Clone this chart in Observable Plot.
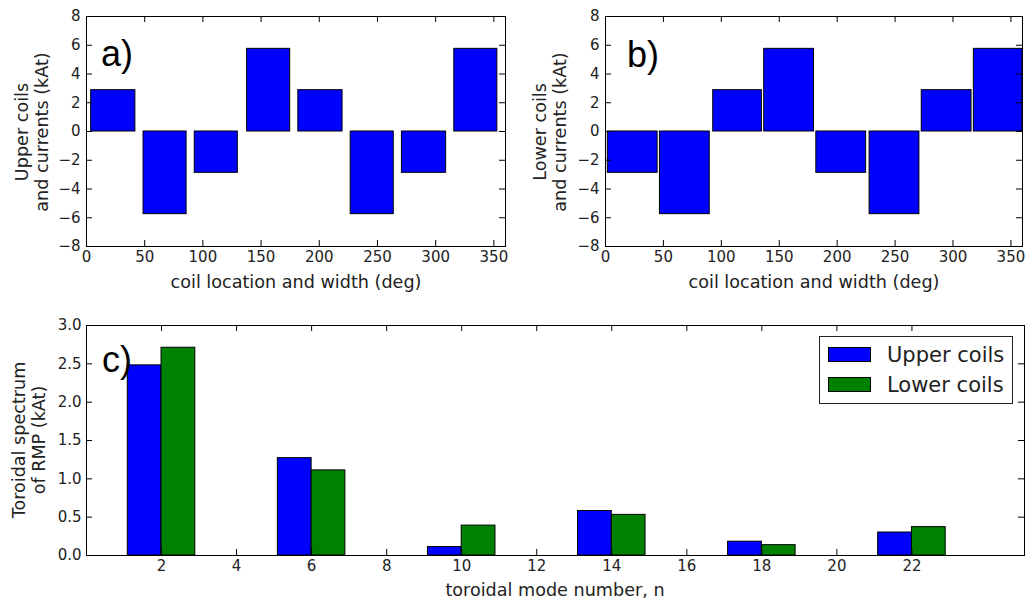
<!DOCTYPE html>
<html><head><meta charset="utf-8">
<script src="https://cdn.jsdelivr.net/npm/d3@7"></script>
<script src="https://cdn.jsdelivr.net/npm/@observablehq/plot@0.6"></script>
<style>
body{margin:0;background:#fff;font-family:"DejaVu Sans",sans-serif;color:#000}
#wrap{position:relative;width:1031px;height:604px;overflow:hidden;background:#fff}
.panel{position:absolute}
.ylab{position:absolute;width:220px;height:40px;transform:rotate(-90deg);text-align:center;font-size:17.6px;line-height:20px;white-space:nowrap;color:#222}
.xlab{position:absolute;width:400px;text-align:center;font-size:17.6px;line-height:20px;white-space:nowrap;color:#222}
.tag{position:absolute;font-family:"Liberation Sans",Arial,sans-serif;font-size:36px;line-height:36px;color:#000}
#legend{position:absolute;left:819px;top:336px;width:192px;height:66px;border:1px solid #222;background:#fff}
.li{position:absolute;left:8px;height:20px;font-size:21px;line-height:20px;white-space:nowrap;color:#222}
.sw{display:inline-block;width:41px;height:13px;border:1px solid #000;vertical-align:middle;margin-right:16px;position:relative;top:-2px}
</style>
</head><body>
<div id="wrap">
  <div class="panel" id="pa" style="left:0;top:0"></div>
  <div class="panel" id="pb" style="left:515px;top:0"></div>
  <div class="panel" id="pc" style="left:0;top:300px"></div>
  <div class="ylab" style="left:-78.5px;top:112px">Upper coils<br>and currents (kAt)</div>
  <div class="xlab" style="left:96px;top:272px">coil location and width (deg)</div>
  <div class="ylab" style="left:440px;top:112px">Lower coils<br>and currents (kAt)</div>
  <div class="xlab" style="left:614px;top:272px">coil location and width (deg)</div>
  <div class="ylab" style="left:-81.5px;top:420px">Toroidal spectrum<br>of RMP (kAt)</div>
  <div class="xlab" style="left:355px;top:580px">toroidal mode number, n</div>
  <div class="tag" style="left:101px;top:35.5px">a)</div>
  <div class="tag" style="left:627px;top:36.5px">b)</div>
  <div class="tag" style="left:102px;top:341.5px">c)</div>
  <div id="legend">
    <div class="li" style="top:8px"><span class="sw" style="background:#0000ff"></span>Upper coils</div>
    <div class="li" style="top:38px"><span class="sw" style="background:#008000"></span>Lower coils</div>
  </div>
</div>
<script>
// ---- data ----
const upperStart = [4, 49, 93, 138, 182, 227, 271, 316];
const upperEnd   = [42, 86, 130, 175, 220, 264, 309, 353];
const upperCurrent = [2.875, -5.75, -2.875, 5.75, 2.875, -5.75, -2.875, 5.75];

const lowerStart = [2, 47, 93, 137, 182, 228, 273, 318];
const lowerEnd   = [45, 90, 135, 180, 225, 271, 316, 360];
const lowerCurrent = [-2.875, -5.75, 2.875, 5.75, -2.875, -5.75, 2.875, 5.75];

const modeN = [2, 4, 6, 8, 10, 12, 14, 16, 18, 20, 22, 24];
const upperSpectrum = [2.48, 0, 1.27, 0, 0.11, 0, 0.58, 0, 0.18, 0, 0.30, 0];
const lowerSpectrum = [2.71, 0, 1.11, 0, 0.39, 0, 0.53, 0, 0.135, 0, 0.37, 0];

const coilXTicks = [0, 50, 100, 150, 200, 250, 300, 350];
const coilYTicks = [-8, -6, -4, -2, 0, 2, 4, 6, 8];
const specXTicks = [2, 4, 6, 8, 10, 12, 14, 16, 18, 20, 22];
const specYTicks = [0, 0.5, 1.0, 1.5, 2.0, 2.5, 3.0];

const BLUE = "#0000ff", GREEN = "#008000";
const TICK = 6;
const style = {fontFamily: "DejaVu Sans, sans-serif", fontSize: "15px", color: "#222", background: "transparent", overflow: "visible"};

function inwardTicks(xt, yt, W, H, m) {
  const ph = H - m.top - m.bottom, pw = W - m.left - m.right;
  return [
    Plot.tickX(xt, {x: d => d, insetTop: ph - TICK, stroke: "#000"}),
    Plot.tickX(xt, {x: d => d, insetBottom: ph - TICK, stroke: "#000"}),
    Plot.tickY(yt, {y: d => d, insetLeft: pw - TICK, stroke: "#000"}),
    Plot.tickY(yt, {y: d => d, insetRight: pw - TICK, stroke: "#000"})
  ];
}

function coilPanel(starts, ends, vals, W, m) {
  const H = 300;
  const rows = starts.map((s, i) => ({s, e: ends[i], v: vals[i]}));
  return Plot.plot({
    width: W, height: H,
    marginLeft: m.left, marginRight: m.right, marginTop: m.top, marginBottom: m.bottom,
    style,
    x: {domain: [0, 360]},
    y: {domain: [-8, 8]},
    marks: [
      Plot.rect(rows, {x1: "s", x2: "e", y1: 0, y2: "v", fill: BLUE, stroke: "#000", strokeWidth: 1}),
      ...inwardTicks(coilXTicks, coilYTicks, W, H, m),
      Plot.axisX({ticks: coilXTicks, tickSize: 0, tickPadding: 5, label: null}),
      Plot.axisY({ticks: coilYTicks, tickSize: 0, tickPadding: 6, label: null}),
      Plot.frame({stroke: "#000", strokeWidth: 1})
    ]
  });
}

document.getElementById("pa").appendChild(
  coilPanel(upperStart, upperEnd, upperCurrent, 515, {left: 86, right: 10, top: 16, bottom: 54}));
document.getElementById("pb").appendChild(
  coilPanel(lowerStart, lowerEnd, lowerCurrent, 516, {left: 90, right: 9, top: 16, bottom: 54}));

// spectrum panel
{
  const W = 1031, H = 304, m = {left: 86, right: 7, top: 25, bottom: 49};
  const barW = 0.9;
  const rows = [];
  modeN.forEach((n, i) => {
    rows.push({n, x1: n - barW, x2: n, v: upperSpectrum[i], s: "Upper coils"});
    rows.push({n, x1: n, x2: n + barW, v: lowerSpectrum[i], s: "Lower coils"});
  });
  const svg = Plot.plot({
    width: W, height: H,
    marginLeft: m.left, marginRight: m.right, marginTop: m.top, marginBottom: m.bottom,
    style,
    x: {domain: [0, 25]},
    y: {domain: [0, 3]},
    color: {domain: ["Upper coils", "Lower coils"], range: [BLUE, GREEN]},
    marks: [
      Plot.rect(rows, {x1: "x1", x2: "x2", y1: 0, y2: "v", fill: "s", stroke: "#000", strokeWidth: 1}),
      ...inwardTicks(specXTicks, specYTicks, W, H, m),
      Plot.axisX({ticks: specXTicks, tickSize: 0, tickPadding: 5, label: null}),
      Plot.axisY({ticks: specYTicks, tickSize: 0, tickPadding: 5, tickFormat: d3.format(".1f"), label: null}),
      Plot.frame({stroke: "#000", strokeWidth: 1})
    ]
  });
  document.getElementById("pc").appendChild(svg);
}
</script>
</body></html>
